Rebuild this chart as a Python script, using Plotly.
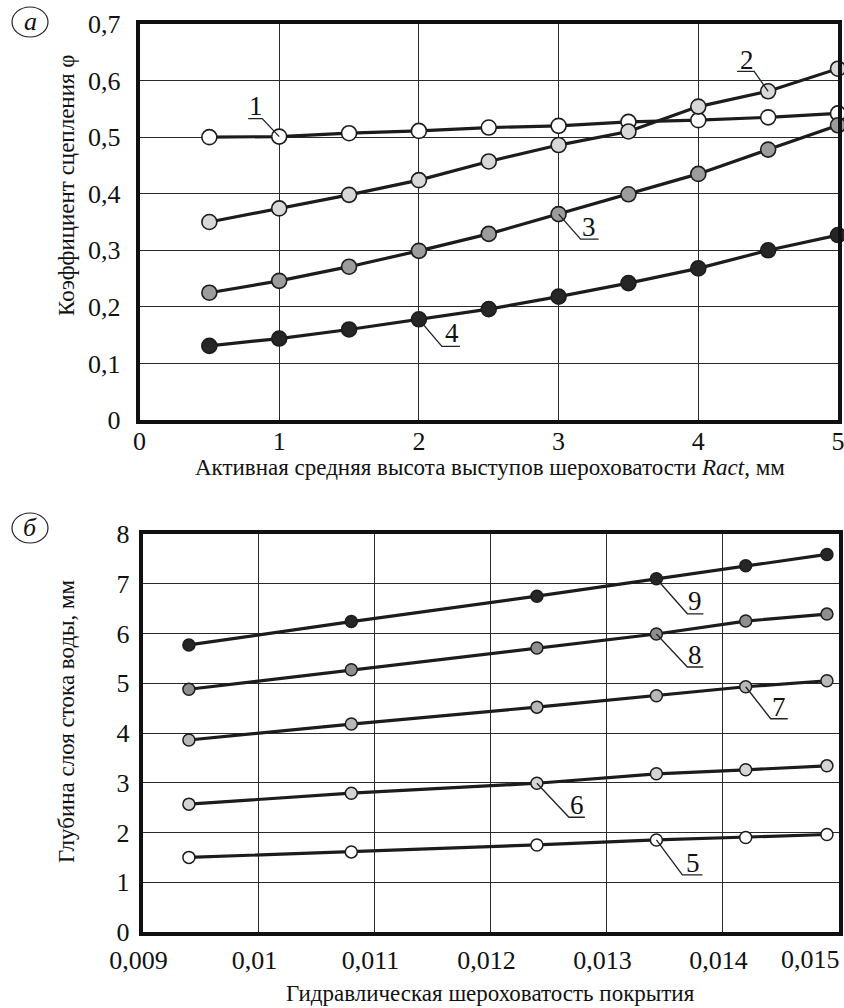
import plotly.graph_objects as go

# ---- data: panel (а) ----
ract = [0.5, 1.0, 1.5, 2.0, 2.5, 3.0, 3.5, 4.0, 4.5, 5.0]
phi_1 = [0.500, 0.501, 0.507, 0.511, 0.517, 0.520, 0.527, 0.530, 0.535, 0.542]
phi_2 = [0.350, 0.374, 0.398, 0.424, 0.457, 0.486, 0.510, 0.554, 0.581, 0.621]
phi_3 = [0.225, 0.246, 0.271, 0.299, 0.329, 0.364, 0.399, 0.435, 0.478, 0.521]
phi_4 = [0.131, 0.144, 0.160, 0.178, 0.196, 0.218, 0.242, 0.268, 0.300, 0.327]
top_xticks = [0, 1, 2, 3, 4, 5]
top_yticks = [0, 0.1, 0.2, 0.3, 0.4, 0.5, 0.6, 0.7]
top_ytick_text = ["0", "0,1", "0,2", "0,3", "0,4", "0,5", "0,6", "0,7"]

# ---- data: panel (б) ----
n_hyd = [0.0094, 0.0108, 0.0124, 0.01343, 0.0142, 0.0149]
h_5 = [1.50, 1.61, 1.75, 1.85, 1.90, 1.96]
h_6 = [2.57, 2.79, 2.99, 3.18, 3.26, 3.34]
h_7 = [3.86, 4.18, 4.52, 4.75, 4.93, 5.05]
h_8 = [4.88, 5.27, 5.71, 5.99, 6.25, 6.39]
h_9 = [5.77, 6.24, 6.75, 7.10, 7.36, 7.59]
bot_xticks = [0.009, 0.010, 0.011, 0.012, 0.013, 0.014, 0.015]
bot_xtick_text = ["0,009", "0,01", "0,011", "0,012", "0,013", "0,014", "0,015"]
bot_yticks = [0, 1, 2, 3, 4, 5, 6, 7, 8]

W, H = 844, 1008
FONT = "Liberation Serif"
LINE = "#1c1c1c"

fig = go.Figure()

top_series = [
    ("1", phi_1, "#ffffff"),
    ("2", phi_2, "#d8d8d8"),
    ("3", phi_3, "#9c9c9c"),
    ("4", phi_4, "#262626"),
]
for name, ys, col in top_series:
    fig.add_trace(go.Scatter(
        x=ract, y=ys, mode="lines+markers", name=name, xaxis="x", yaxis="y",
        line=dict(color=LINE, width=3.2),
        marker=dict(size=15, color=col, line=dict(color=LINE, width=1.6)),
        cliponaxis=False, showlegend=False))

bot_series = [
    ("5", h_5, "#ffffff"),
    ("6", h_6, "#d4d4d4"),
    ("7", h_7, "#b8b8b8"),
    ("8", h_8, "#8e8e8e"),
    ("9", h_9, "#262626"),
]
for name, ys, col in bot_series:
    fig.add_trace(go.Scatter(
        x=n_hyd, y=ys, mode="lines+markers", name=name, xaxis="x2", yaxis="y2",
        line=dict(color=LINE, width=3.2),
        marker=dict(size=12, color=col, line=dict(color=LINE, width=1.5)),
        cliponaxis=False, showlegend=False))

def px_to_dom_x(a, b):
    return [a / W, b / W]

def px_to_dom_y(top, bottom):
    return [1 - bottom / H, 1 - top / H]

TICK_FONT = dict(family=FONT, size=26, color="#111")
axis_common = dict(
    showline=True, linewidth=3.5, linecolor="#111", mirror=True,
    showgrid=True, gridcolor="#2a2a2a", gridwidth=1.4,
    zeroline=False, ticks="", tickfont=TICK_FONT,
    fixedrange=True, automargin=False, ticklabeloverflow="allow",
)

# last bottom tick label is drawn right-aligned at the axis end (as in the source)
bot_xtick_shown = bot_xtick_text[:-1] + [""]

fig.update_layout(
    width=W, height=H,
    margin=dict(l=0, r=0, t=0, b=0, pad=0, autoexpand=False),
    paper_bgcolor="white", plot_bgcolor="white",
    font=dict(family=FONT, color="#111"),
    xaxis=dict(axis_common, domain=px_to_dom_x(139.5, 838), range=[0, 5],
               tickvals=top_xticks, ticktext=[str(v) for v in top_xticks],
               anchor="y", ticklabelstandoff=-5),
    yaxis=dict(axis_common, domain=px_to_dom_y(24, 420), range=[0, 0.7],
               tickvals=top_yticks, ticktext=top_ytick_text,
               anchor="x", ticklabelstandoff=10),
    xaxis2=dict(axis_common, domain=px_to_dom_x(142.5, 838.5), range=[0.009, 0.015],
                tickvals=bot_xticks, ticktext=bot_xtick_shown,
                anchor="y2", ticklabelstandoff=2, ticklabelshift=-4),
    yaxis2=dict(axis_common, domain=px_to_dom_y(534, 932), range=[0, 8],
                tickvals=bot_yticks, ticktext=[str(v) for v in bot_yticks],
                anchor="x2", ticklabelstandoff=4),
)
fig.add_annotation(x=bot_xticks[-1], y=1 - 959 / H, xref="x2", yref="paper",
                   text=bot_xtick_text[-1], showarrow=False,
                   xanchor="right", yanchor="middle", xshift=3, font=TICK_FONT)

# ---- curve labels with leader lines (pixel offsets from the data point) ----
labels = [
    ("1", ract, phi_1, 1, "", (-17, 18), (-31, 18), (-23, 31)),
    ("2", ract, phi_2, 8, "", (-14, 20), (-31, 20), (-21, 31)),
    ("3", ract, phi_3, 5, "", (22, -25), (40, -25), (30, -13)),
    ("4", ract, phi_4, 3, "", (23, -27), (41, -27), (33, -14)),
    ("9", n_hyd, h_9, 3, "2", (31, -35), (47, -35), (39, -22)),
    ("8", n_hyd, h_8, 3, "2", (31, -33), (47, -33), (39, -21)),
    ("7", n_hyd, h_7, 4, "2", (25, -32), (42, -32), (33, -20)),
    ("6", n_hyd, h_6, 2, "2", (32, -34), (48, -34), (40, -22)),
    ("5", n_hyd, h_5, 3, "2", (26, -35), (46, -35), (37, -23)),
]
for txt, xs, ys, i, ax, p1, p2, tp in labels:
    xref = "x" + ax
    yref = "y" + ax
    path = f"M0,0 L{p1[0]},{p1[1]} L{p2[0]},{p2[1]}"
    fig.add_shape(type="path", path=path, xref=xref, yref=yref,
                  xsizemode="pixel", ysizemode="pixel",
                  xanchor=xs[i], yanchor=ys[i],
                  line=dict(color="#222", width=1.3), layer="above")
    fig.add_annotation(x=xs[i], y=ys[i], xref=xref, yref=yref, text=txt,
                       showarrow=False, xshift=tp[0], yshift=tp[1],
                       xanchor="center", yanchor="middle",
                       font=dict(family=FONT, size=27, color="#111"))

# ---- axis titles ----
title_font = dict(family=FONT, size=23, color="#111")
fig.add_annotation(x=66 / W, y=1 - 185 / H, xref="paper", yref="paper",
                   text="Коэффициент сцепления φ", textangle=-90, showarrow=False,
                   xanchor="center", yanchor="middle", font=title_font)
fig.add_annotation(x=490 / W, y=1 - 467 / H, xref="paper", yref="paper",
                   text="Активная средняя высота выступов шероховатости <i>Ract</i>, мм",
                   showarrow=False, xanchor="center", yanchor="middle", font=title_font)
fig.add_annotation(x=66 / W, y=1 - 721 / H, xref="paper", yref="paper",
                   text="Глубина слоя стока воды, мм", textangle=-90, showarrow=False,
                   xanchor="center", yanchor="middle", font=title_font)
fig.add_annotation(x=490 / W, y=1 - 993 / H, xref="paper", yref="paper",
                   text="Гидравлическая шероховатость покрытия",
                   showarrow=False, xanchor="center", yanchor="middle", font=title_font)

# ---- panel markers (а), (б) ----
for letter, cy in (("а", 22), ("б", 528)):
    fig.add_shape(type="circle", xref="paper", yref="paper",
                  x0=12 / W, x1=48 / W, y0=1 - (cy + 15) / H, y1=1 - (cy - 15) / H,
                  line=dict(color="#222", width=1.2))
    fig.add_annotation(x=30 / W, y=1 - (cy - 1) / H, xref="paper", yref="paper",
                       text=f"<i>{letter}</i>", showarrow=False,
                       xanchor="center", yanchor="middle",
                       font=dict(family=FONT, size=26, color="#111"))

fig.write_html("out.html", config={"displayModeBar": False},
               post_script="document.body.style.margin='0';document.body.style.overflow='hidden';")
